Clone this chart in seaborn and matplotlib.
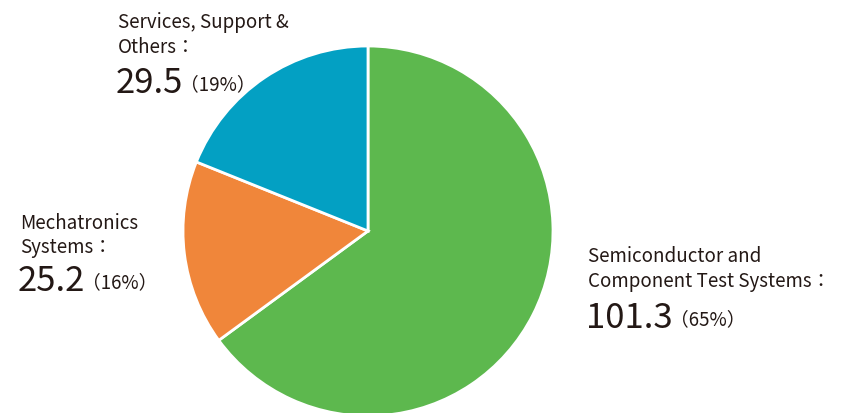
import seaborn as sns
import matplotlib.pyplot as plt

# Sales by segment (billion yen)
segments = [["Semiconductor and", "Component Test Systems："],
            ["Mechatronics", "Systems："],
            ["Services, Support &", "Others："]]
values = [101.3, 25.2, 29.5]
shares = [65, 16, 19]
colors = ["#5db84e", "#f0863a", "#03a0c3"]

sns.set_theme(style="white")
plt.rcParams['font.family'] = ['Noto Sans CJK JP', 'DejaVu Sans']
txt_color = "#231815"

W, H = 850, 414
fig = plt.figure(figsize=(W / 100, H / 100), dpi=100)
ax = fig.add_axes([0, 0, 1, 1])

cx, cy, r = 368, 232, 185
ax.pie(values, colors=colors, startangle=90, counterclock=False, radius=1,
       wedgeprops=dict(edgecolor="white", linewidth=2))
ax.set_xlim(-cx / r, (W - cx) / r)
ax.set_ylim(-(H - cy) / r, cy / r)
ax.set_aspect("auto")
ax.axis("off")


def px(x, y):
    return x / W, 1 - y / H


# label anchors: (x, baselines of the two lines, baseline of number)
anchors = [(588, (262, 287), 328), (20, (229, 253), 291), (118, (28, 53), 93)]

nums = []
for lines, val, (x, ys, yn) in zip(segments, values, anchors):
    for line, y in zip(lines, ys):
        fig.text(*px(x, y), line, fontsize=13.5, color=txt_color,
                 va="baseline")
    nums.append(fig.text(*px(x - 2, yn), f"{val:.1f}", fontsize=25,
                         color=txt_color, va="baseline"))

fig.canvas.draw()
for t, s, (x, ys, yn) in zip(nums, shares, anchors):
    bb = t.get_window_extent()
    fig.text((bb.x1 - 3) / W, 1 - (yn - 3) / H, f"（{s}%）", fontsize=13.5,
             color=txt_color, va="baseline")

plt.savefig("out.png", dpi=100)
